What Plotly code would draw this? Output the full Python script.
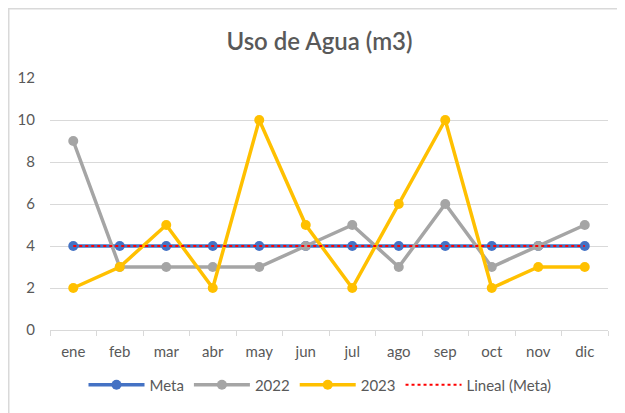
import plotly.graph_objects as go

months = ["ene", "feb", "mar", "abr", "may", "jun", "jul", "ago", "sep", "oct", "nov", "dic"]
meta = [4, 4, 4, 4, 4, 4, 4, 4, 4, 4, 4, 4]
s2022 = [9, 3, 3, 3, 3, 4, 5, 3, 6, 3, 4, 5]
s2023 = [2, 3, 5, 2, 10, 5, 2, 6, 10, 2, 3, 3]
trend_meta = [4, 4, 4, 4, 4, 4, 4, 4, 4, 4, 4, 4]
y_ticks = [0, 2, 4, 6, 8, 10, 12]

fig = go.Figure()
fig.add_trace(go.Scatter(x=months, y=meta, name="Meta", mode="lines+markers",
                         line=dict(color="#4472C4", width=3.5), marker=dict(size=10, color="#4472C4")))
fig.add_trace(go.Scatter(x=months, y=s2022, name="2022", mode="lines+markers",
                         line=dict(color="#A5A5A5", width=3.5), marker=dict(size=10, color="#A5A5A5")))
fig.add_trace(go.Scatter(x=months, y=s2023, name="2023", mode="lines+markers",
                         line=dict(color="#FFC000", width=3.5), marker=dict(size=10, color="#FFC000")))
fig.add_trace(go.Scatter(x=months, y=trend_meta, name="Lineal (Meta)", mode="lines",
                         line=dict(color="#FF0000", width=2, dash="dot")))

# page body adds an 8px offset; figure coordinates = reference pixel - 8
L, R, T, B = 42, 600, 70, 322
W, H = 625, 413
pw, ph = R - L, B - T

font_family = "Lato, Open Sans, sans-serif"
fig.update_layout(
    width=W, height=H,
    margin=dict(l=L, r=W - R, t=T, b=H - B, autoexpand=False),
    paper_bgcolor="white", plot_bgcolor="white",
    title=dict(text="Uso de Agua (m3)", x=311.5 / W, xanchor="center", y=1 - 34 / H, yanchor="middle",
               automargin=False,
               font=dict(family=font_family, size=24, color="#595959", weight=600)),
    font=dict(family=font_family, size=15, color="#595959"),
    showlegend=True,
    legend=dict(orientation="h", x=(312 - L) / pw, xanchor="center", y=(B - 377) / ph, yanchor="middle",
                font=dict(size=15, color="#595959"), itemwidth=56, tracegroupgap=0),
    xaxis=dict(type="category", range=[-0.5, 11.5], automargin=False, showgrid=False, showline=True,
               linecolor="#D9D9D9", linewidth=1,
               ticks="outside", tickson="boundaries", ticklen=5, tickcolor="#D9D9D9",
               ticklabelstandoff=8,
               tickfont=dict(size=15, color="#595959"), zeroline=False),
    yaxis=dict(range=[0, 12], automargin=False, tickvals=y_ticks, showgrid=True, gridcolor="#D9D9D9", gridwidth=1,
               zeroline=False, showline=False, ticks="", ticklabelstandoff=14,
               tickfont=dict(size=15, color="#595959")),
    shapes=[
        dict(type="line", xref="paper", yref="paper", x0=(0.75 - L) / pw, x1=(0.75 - L) / pw,
             y0=(B - 0) / ph, y1=(B - H) / ph, line=dict(color="#D9D9D9", width=1.5)),
        dict(type="line", xref="paper", yref="paper", x0=(0 - L) / pw, x1=(W - L) / pw,
             y0=(B - 0.75) / ph, y1=(B - 0.75) / ph, line=dict(color="#D9D9D9", width=1.5)),
    ],
)

fig.write_html("out.html")
